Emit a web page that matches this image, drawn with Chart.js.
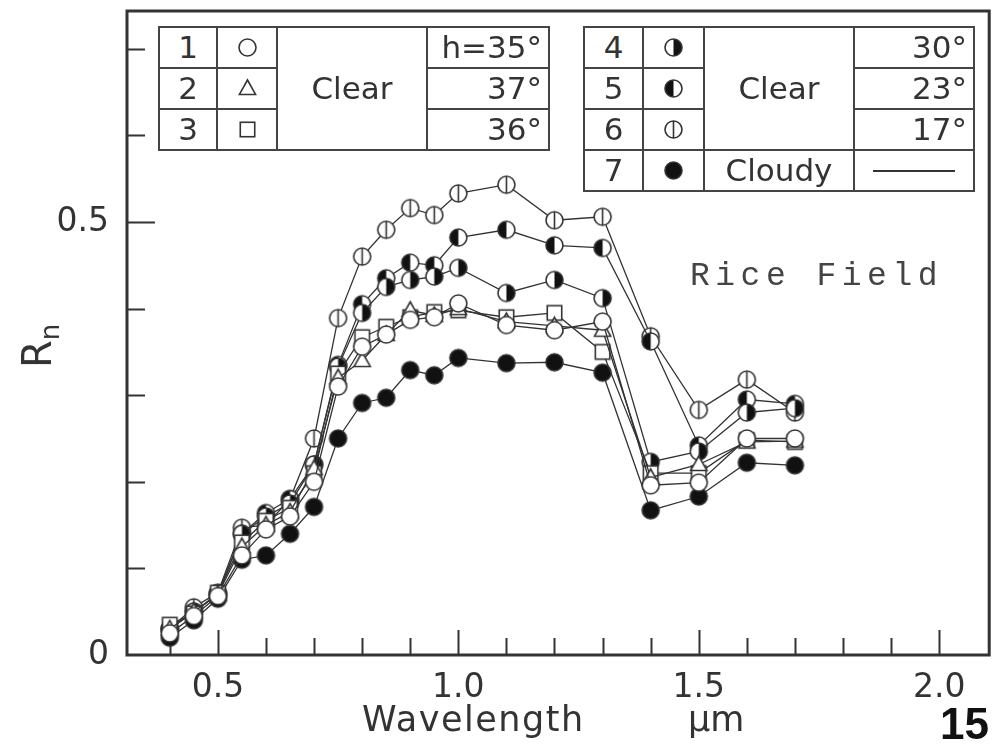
<!DOCTYPE html>
<html>
<head>
<meta charset="utf-8">
<script src="https://cdn.jsdelivr.net/npm/chart.js@4.4.1/dist/chart.umd.min.js"></script>
<style>
  body { margin: 0; background: #fff; }
  #wrap { position: relative; width: 999px; height: 747px; overflow: hidden; }
  #chart { position: absolute; left: 0; top: 0; }
  .txt { position: absolute; font-family: "DejaVu Sans", sans-serif; color: #333; white-space: nowrap; }
  table.leg { position: absolute; border-collapse: collapse; font-family: "DejaVu Sans", sans-serif;
              font-size: 31px; color: #333; background: #fff; table-layout: fixed; }
  table.leg td { border: 2px solid #444; padding: 0; height: 39px; text-align: center; line-height: 1; }
  table.leg td.ang { text-align: right; padding-right: 6px; }
</style>
</head>
<body>
<div id="wrap">
  <canvas id="chart" width="999" height="747"></canvas>

  <table class="leg" style="left:158px; top:26px; width:390px;">
    <colgroup><col style="width:58px"><col style="width:60px"><col style="width:150px"><col style="width:122px"></colgroup>
    <tr><td>1</td><td class="sym" id="ls1"></td><td rowspan="3">Clear</td><td class="ang">h=35°</td></tr>
    <tr><td>2</td><td class="sym" id="ls2"></td><td class="ang">37°</td></tr>
    <tr><td>3</td><td class="sym" id="ls3"></td><td class="ang">36°</td></tr>
  </table>

  <table class="leg" style="left:583px; top:26px; width:390px;">
    <colgroup><col style="width:59px"><col style="width:61px"><col style="width:150px"><col style="width:120px"></colgroup>
    <tr><td>4</td><td class="sym" id="ls4"></td><td rowspan="3">Clear</td><td class="ang">30°</td></tr>
    <tr><td>5</td><td class="sym" id="ls5"></td><td class="ang">23°</td></tr>
    <tr><td>6</td><td class="sym" id="ls6"></td><td class="ang">17°</td></tr>
    <tr><td>7</td><td class="sym" id="ls7"></td><td>Cloudy</td><td><div style="width:82px;border-top:2px solid #333;margin:0 auto;"></div></td></tr>
  </table>

  <div class="txt" style="left:690px; top:258px; font-family:'Liberation Mono',monospace; font-size:33px; letter-spacing:5.5px; color:#444;">Rice Field</div>
  <div class="txt" style="left:362px; top:699px; font-size:35px; letter-spacing:1.5px;">Wavelength</div>
  <div class="txt" style="left:688px; top:699px; font-size:35px;">µm</div>
  <div class="txt" style="left:6px; top:316px; font-size:40px; transform:rotate(-90deg); transform-origin:30px 22px;">R<span style="font-size:26px; position:relative; top:8px;">n</span></div>
  <div class="txt" style="left:940px; top:699px; font-family:'Liberation Sans Narrow','Liberation Sans',sans-serif; font-weight:bold; font-size:44px; color:#111;">15</div>
</div>

<script>
// wavelengths (µm) and normalized reflectance Rn
const wavelengths = [0.4, 0.45, 0.5, 0.55, 0.6, 0.65, 0.7, 0.75, 0.8, 0.85, 0.9, 0.95, 1.0, 1.1, 1.2, 1.3, 1.4, 1.5, 1.6, 1.7];

const rnClear35 = [0.025, 0.045, 0.068, 0.115, 0.145, 0.16, 0.20, 0.31, 0.356, 0.37, 0.387, 0.39, 0.406, 0.381, 0.375, 0.385, 0.196, 0.199, 0.25, 0.25];
const rnClear37 = [0.03, 0.05, 0.07, 0.125, 0.15, 0.165, 0.215, 0.32, 0.34, 0.37, 0.398, 0.392, 0.40, 0.385, 0.38, 0.375, 0.205, 0.22, 0.246, 0.247];
const rnClear36 = [0.035, 0.048, 0.072, 0.13, 0.155, 0.17, 0.21, 0.325, 0.367, 0.379, 0.39, 0.396, 0.398, 0.39, 0.395, 0.35, 0.21, 0.21, 0.248, 0.246];
const rnClear30 = [0.03, 0.05, 0.07, 0.14, 0.16, 0.175, 0.22, 0.333, 0.395, 0.425, 0.433, 0.437, 0.447, 0.418, 0.433, 0.412, 0.223, 0.235, 0.28, 0.285];
const rnClear23 = [0.03, 0.05, 0.07, 0.14, 0.164, 0.18, 0.22, 0.335, 0.405, 0.435, 0.453, 0.45, 0.482, 0.491, 0.473, 0.47, 0.362, 0.242, 0.295, 0.29];
const rnClear17 = [0.03, 0.055, 0.072, 0.147, 0.15, 0.18, 0.25, 0.389, 0.46, 0.491, 0.516, 0.508, 0.533, 0.543, 0.502, 0.506, 0.368, 0.283, 0.318, 0.28];
const rnCloudy  = [0.02, 0.04, 0.065, 0.11, 0.115, 0.14, 0.171, 0.25, 0.291, 0.297, 0.329, 0.323, 0.343, 0.337, 0.338, 0.326, 0.167, 0.183, 0.222, 0.219];

const seriesValues = [rnClear35, rnClear37, rnClear36, rnClear30, rnClear23, rnClear17, rnCloudy];
const seriesLabels = ['1', '2', '3', '4', '5', '6', '7'];
const seriesMarkers = ['circle', 'triangle', 'square', 'halfRight', 'halfLeft', 'bar', 'filled'];

const xTickValues = [0.4, 0.5, 0.6, 0.7, 0.8, 0.9, 1.0, 1.1, 1.2, 1.3, 1.4, 1.5, 1.6, 1.7, 1.8, 1.9, 2.0];
const xLabelValues = [0.5, 1.0, 1.5, 2.0];
const xLabelTexts = ['0.5', '1.0', '1.5', '2.0'];
const yTickValues = [0, 0.1, 0.2, 0.3, 0.4, 0.5, 0.6, 0.7];
const yLabelValues = [0, 0.5];
const yLabelTexts = ['0', '0.5'];

const INK = '#333';

// draw one marker shape on a small canvas, used as a pointStyle
function drawMarker(c, kind, cx, cy, r) {
    c.lineWidth = 1.6;
    c.strokeStyle = INK;
    c.fillStyle = '#fff';
    if (kind === 'triangle') {
        c.beginPath();
        c.moveTo(cx, cy - r);
        c.lineTo(cx + r * 0.95, cy + r * 0.7);
        c.lineTo(cx - r * 0.95, cy + r * 0.7);
        c.closePath();
        c.fill(); c.stroke();
        return;
    }
    if (kind === 'square') {
        const s = r * 0.85;
        c.fillRect(cx - s, cy - s, 2 * s, 2 * s);
        c.strokeRect(cx - s, cy - s, 2 * s, 2 * s);
        return;
    }
    c.beginPath();
    c.arc(cx, cy, r, 0, Math.PI * 2);
    c.fillStyle = kind === 'filled' ? '#111' : '#fff';
    c.fill();
    if (kind === 'halfRight' || kind === 'halfLeft') {
        c.beginPath();
        if (kind === 'halfRight') c.arc(cx, cy, r, -Math.PI / 2, Math.PI / 2);
        else c.arc(cx, cy, r, Math.PI / 2, Math.PI * 1.5);
        c.closePath();
        c.fillStyle = '#111';
        c.fill();
    }
    c.beginPath();
    c.arc(cx, cy, r, 0, Math.PI * 2);
    c.stroke();
    if (kind === 'bar') {
        c.beginPath();
        c.moveTo(cx, cy - r);
        c.lineTo(cx, cy + r);
        c.stroke();
    }
}

function makeMarker(kind, r) {
    const cv = document.createElement('canvas');
    const size = Math.ceil(r * 2 + 4);
    cv.width = size;
    cv.height = size;
    drawMarker(cv.getContext('2d'), kind, size / 2, size / 2, r);
    return cv;
}

// legend symbols
seriesMarkers.forEach((kind, i) => {
    const cell = document.getElementById('ls' + (i + 1));
    const m = makeMarker(kind, 8.5);
    m.style.display = 'block';
    m.style.margin = '0 auto';
    cell.appendChild(m);
});

function labelFor(value, values, texts) {
    const i = values.findIndex(v => Math.abs(v - value) < 1e-6);
    return i >= 0 ? texts[i] : '';
}

function isMajor(value, values) {
    return values.some(v => Math.abs(v - value) < 1e-6);
}

// inward tick marks and the box frame
const framePlugin = {
    id: 'frame',
    beforeDatasetsDraw(chart) {
        const { ctx, chartArea: a, scales: { x, y } } = chart;
        ctx.save();
        ctx.strokeStyle = INK;
        ctx.lineWidth = 2;
        ctx.beginPath();
        x.ticks.forEach(t => {
            const px = Math.round(x.getPixelForValue(t.value)) + 0.5;
            const len = isMajor(t.value, xLabelValues) ? 25 : 17;
            ctx.moveTo(px, a.bottom);
            ctx.lineTo(px, a.bottom - len);
        });
        y.ticks.forEach(t => {
            if (t.value === 0) return;
            const py = Math.round(y.getPixelForValue(t.value)) + 0.5;
            const len = isMajor(t.value, [0.5]) ? 28 : 18;
            ctx.moveTo(a.left, py);
            ctx.lineTo(a.left + len, py);
        });
        ctx.stroke();
        ctx.lineWidth = 3;
        ctx.strokeRect(a.left, a.top, a.right - a.left, a.bottom - a.top);
        ctx.restore();
    }
};

const datasets = seriesValues.map((vals, i) => ({
    label: seriesLabels[i],
    data: wavelengths.map((w, j) => ({ x: w, y: vals[j] })),
    borderColor: INK,
    borderWidth: 1.3,
    pointStyle: makeMarker(seriesMarkers[i], 8.5),
    pointRadius: 8.5,
    tension: 0,
    fill: false
}));

new Chart(document.getElementById('chart'), {
    type: 'line',
    data: { datasets: datasets },
    options: {
        responsive: false,
        animation: false,
        events: [],
        layout: { padding: { top: 11, right: 9, left: 0, bottom: 0 } },
        plugins: {
            legend: { display: false },
            tooltip: { enabled: false }
        },
        scales: {
            x: {
                type: 'linear',
                min: 0.311,
                max: 2.104,
                grid: { display: false },
                border: { display: false },
                afterBuildTicks: (scale) => {
                    scale.ticks = xTickValues.map(v => ({ value: v }));
                },
                afterFit: (scale) => {
                    scale.height = 92;
                    scale.paddingLeft = 0;
                    scale.paddingRight = 0;
                },
                ticks: {
                    autoSkip: false,
                    maxRotation: 0,
                    padding: 6,
                    color: INK,
                    font: { family: 'DejaVu Sans', size: 33 },
                    callback: (value) => labelFor(value, xLabelValues, xLabelTexts)
                }
            },
            y: {
                type: 'linear',
                min: 0,
                max: 0.7436,
                grid: { display: false },
                border: { display: false },
                afterBuildTicks: (scale) => {
                    scale.ticks = yTickValues.map(v => ({ value: v }));
                },
                afterFit: (scale) => {
                    scale.width = 127;
                    scale.paddingTop = 0;
                    scale.paddingBottom = 0;
                },
                ticks: {
                    autoSkip: false,
                    padding: 10,
                    color: INK,
                    font: { family: 'DejaVu Sans', size: 33 },
                    callback: (value) => labelFor(value, yLabelValues, yLabelTexts)
                }
            }
        }
    },
    plugins: [framePlugin]
});
</script>
</body>
</html>
